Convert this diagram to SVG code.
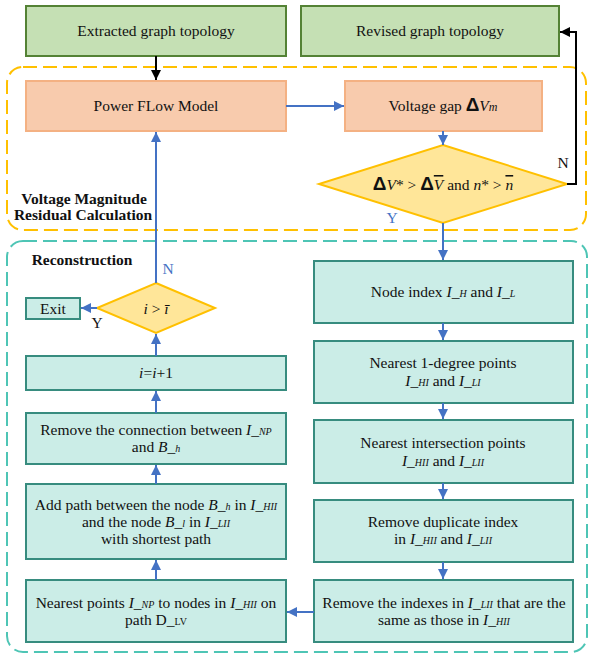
<svg xmlns="http://www.w3.org/2000/svg" width="589" height="657" viewBox="0 0 589 657">
<style>
text{font-family:"Liberation Serif","Times New Roman",serif;font-size:15.5px;fill:#111;text-anchor:middle}
.g{fill:#c5e0b4;stroke:#548235;stroke-width:2}
.s{fill:#f8cbad;stroke:#f4b183;stroke-width:2}
.d{fill:#ffe699;stroke:#ffc000;stroke-width:2}
.t{fill:#cbede7;stroke:#378c7f;stroke-width:2}
.b{font-weight:bold}
.i{font-style:italic}
.sub{font-size:10px;font-style:italic}
.subr{font-size:10px}
.dl{font-family:"Liberation Sans",Arial,sans-serif;font-weight:bold;font-size:19px}
.ol{text-decoration:overline}
.cb{fill:none;stroke:#4472c4;stroke-width:2}
.ck{fill:none;stroke:#000;stroke-width:2}
</style>
<defs>
<marker id="ab" markerUnits="userSpaceOnUse" markerWidth="12" markerHeight="12" refX="10" refY="5" orient="auto"><path d="M0,0 L10,5 L0,10 z" fill="#4472c4"/></marker>
<marker id="ak" markerUnits="userSpaceOnUse" markerWidth="12" markerHeight="12" refX="10" refY="5" orient="auto"><path d="M0,0 L10,5 L0,10 z" fill="#000"/></marker>
</defs>

<g id="containers">
<rect x="7" y="67" width="579" height="163" rx="16" fill="none" stroke="#ffc000" stroke-width="2" stroke-dasharray="14,6"/>
<rect x="7" y="241" width="580" height="411" rx="16" fill="none" stroke="#4ec5b5" stroke-width="2" stroke-dasharray="14,6"/>
<text class="b" x="84" y="204">Voltage Magnitude</text>
<text class="b" x="83" y="220">Residual Calculation</text>
<text class="b" x="82" y="265">Reconstruction</text>
</g>

<g id="n_extracted"><rect class="g" x="26" y="6" width="260" height="50"/><text x="156" y="36">Extracted graph topology</text></g>
<g id="n_revised"><rect class="g" x="301" y="6" width="258" height="50"/><text x="430" y="36">Revised graph topology</text></g>
<g id="n_pf"><rect class="s" x="26" y="81" width="260" height="50"/><text x="156" y="111">Power FLow Model</text></g>
<g id="n_vgap"><rect class="s" x="345" y="81" width="197" height="50"/><text x="443" y="111">Voltage gap <tspan class="dl">Δ</tspan><tspan class="i">V</tspan><tspan class="i" font-size="12">m</tspan></text></g>
<g id="n_cond"><path class="d" d="M443,145 L567,184 L443,223 L319,184 z"/>
<text x="443" y="190"><tspan class="dl">Δ</tspan><tspan class="i">V</tspan>* &gt; <tspan class="dl">Δ</tspan><tspan class="i ol">V</tspan> and <tspan class="i">n</tspan>* &gt; <tspan class="i ol">n</tspan></text>
</g>

<g id="n_nodeindex"><rect class="t" x="314" y="261" width="259" height="62"/><text x="443" y="297">Node index <tspan class="i">I</tspan>_<tspan class="sub">H</tspan> and <tspan class="i">I</tspan>_<tspan class="sub">L</tspan></text></g>
<g id="n_nearest1"><rect class="t" x="314" y="341" width="259" height="62"/><text x="443" y="368">Nearest 1-degree points</text><text x="443" y="386"><tspan class="i">I</tspan>_<tspan class="sub">HI</tspan> and <tspan class="i">I</tspan>_<tspan class="sub">LI</tspan></text></g>
<g id="n_nearestint"><rect class="t" x="314" y="420" width="259" height="63"/><text x="443" y="448">Nearest intersection points</text><text x="443" y="466"><tspan class="i">I</tspan>_<tspan class="sub">HII</tspan> and <tspan class="i">I</tspan>_<tspan class="sub">LII</tspan></text></g>
<g id="n_dup"><rect class="t" x="314" y="500" width="259" height="62"/><text x="443" y="527">Remove duplicate index</text><text x="443" y="544">in <tspan class="i">I</tspan>_<tspan class="sub">HII</tspan> and <tspan class="i">I</tspan>_<tspan class="sub">LII</tspan></text></g>
<g id="n_remidx"><rect class="t" x="314" y="580" width="259" height="62"/><text x="444" y="608">Remove the indexes in <tspan class="i">I</tspan>_<tspan class="sub">LII</tspan> that are the</text><text x="444" y="625">same as those in <tspan class="i">I</tspan>_<tspan class="sub">HII</tspan></text></g>

<g id="n_nearestpts"><rect class="t" x="26" y="580" width="260" height="62"/><text x="156" y="608">Nearest points <tspan class="i">I</tspan>_<tspan class="sub">NP</tspan> to nodes in <tspan class="i">I</tspan>_<tspan class="sub">HII</tspan>  on</text><text x="156" y="625">path D_<tspan class="subr">LV</tspan></text></g>
<g id="n_addpath"><rect class="t" x="26" y="484" width="260" height="75"/><text x="156" y="510">Add path between the node <tspan class="i">B</tspan>_<tspan class="sub">h</tspan> in <tspan class="i">I</tspan>_<tspan class="sub">HII</tspan></text><text x="156" y="527">and the node <tspan class="i">B</tspan>_<tspan class="sub">l</tspan> in <tspan class="i">I</tspan>_<tspan class="sub">LII</tspan></text><text x="156" y="544">with shortest path</text></g>
<g id="n_remconn"><rect class="t" x="26" y="413" width="260" height="51"/><text x="156" y="435">Remove the connection between  <tspan class="i">I</tspan>_<tspan class="sub">NP</tspan></text><text x="156" y="452">and <tspan class="i">B</tspan>_<tspan class="sub">h</tspan></text></g>
<g id="n_inc"><rect class="t" x="26" y="356" width="260" height="34"/><text x="156" y="378"><tspan class="i">i</tspan>=<tspan class="i">i</tspan>+1</text></g>
<g id="n_cond2"><path class="d" d="M156,283 L215,308 L156,333 L97,308 z"/><text x="156" y="314" font-size="17"><tspan class="i">i</tspan> &gt; <tspan class="i">ī</tspan></text></g>
<g id="n_exit"><rect class="t" x="26" y="298" width="54" height="21"/><text x="53" y="314">Exit</text></g>

<g id="connectors">
<line class="ck" x1="156" y1="56" x2="156" y2="80" marker-end="url(#ak)"/>
<line class="cb" x1="286" y1="106" x2="344" y2="106" marker-end="url(#ab)"/>
<line class="cb" x1="443" y1="131" x2="443" y2="145" marker-end="url(#ab)"/>
<polyline class="ck" points="567,184 576,184 576,32 560,32" marker-end="url(#ak)"/>
<line class="cb" x1="443" y1="223" x2="443" y2="260" marker-end="url(#ab)"/>
<line class="cb" x1="443" y1="323" x2="443" y2="340" marker-end="url(#ab)"/>
<line class="cb" x1="443" y1="403" x2="443" y2="419" marker-end="url(#ab)"/>
<line class="cb" x1="443" y1="483" x2="443" y2="499" marker-end="url(#ab)"/>
<line class="cb" x1="443" y1="562" x2="443" y2="579" marker-end="url(#ab)"/>
<line class="cb" x1="314" y1="612" x2="287" y2="612" marker-end="url(#ab)"/>
<line class="cb" x1="156" y1="580" x2="156" y2="560" marker-end="url(#ab)"/>
<line class="cb" x1="156" y1="484" x2="156" y2="465" marker-end="url(#ab)"/>
<line class="cb" x1="156" y1="413" x2="156" y2="391" marker-end="url(#ab)"/>
<line class="cb" x1="156" y1="356" x2="156" y2="334" marker-end="url(#ab)"/>
<line class="cb" x1="97" y1="308" x2="81" y2="308" marker-end="url(#ab)"/>
<line class="cb" x1="156" y1="283" x2="156" y2="132" marker-end="url(#ab)"/>
<text x="563" y="168">N</text>
<text x="392" y="223" style="fill:#4472c4">Y</text>
<text x="168" y="274" style="fill:#4472c4">N</text>
<text x="97" y="328">Y</text>
</g>
</svg>
